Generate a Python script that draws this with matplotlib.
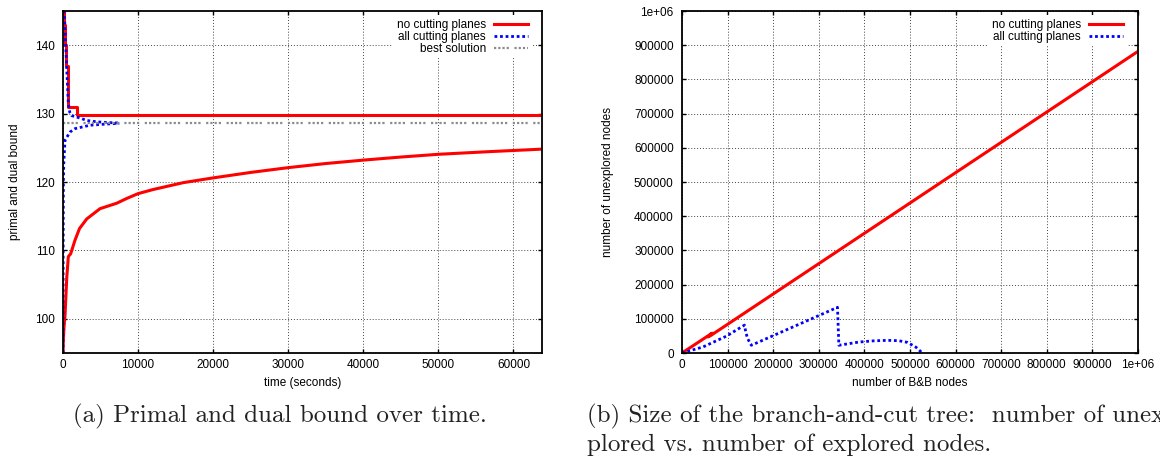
import matplotlib
matplotlib.use("Agg")
import matplotlib.pyplot as plt

# ---- (a) primal and dual bound over time ----
# primal bound, no cutting planes (step function)
t_primal_nocut = [0, 100, 200, 350, 700, 1830, 63700]
v_primal_nocut = [145, 143, 140, 137, 131, 129.85, 129.85]
# dual bound, no cutting planes
t_dual_nocut = [0, 50, 150, 270, 500, 710, 1020, 1600, 2200, 3160, 4930, 7160, 8500,
                10000, 12000, 14000, 16000, 18270, 20000, 25000, 30000, 35000, 40000,
                45000, 50000, 57000, 63700]
v_dual_nocut = [95, 97, 99, 100.5, 106, 109.1, 109.5, 111.5, 113.2, 114.6, 116.1, 116.9, 117.6,
                118.3, 118.9, 119.4, 119.9, 120.3, 120.6, 121.4, 122.1, 122.7, 123.2,
                123.65, 124.05, 124.45, 124.8]
# primal bound, all cutting planes
t_primal_cut = [0, 180, 490, 710, 900, 1160, 2270, 3160, 4490, 5820, 7500]
v_primal_cut = [145, 144.7, 136.8, 131.5, 130.2, 129.7, 129.35, 129.0, 128.8, 128.7, 128.62]
# dual bound, all cutting planes
t_dual_cut = [0, 20, 50, 100, 270, 930, 1600, 3600, 5500, 7500]
v_dual_cut = [95, 110, 120, 122.7, 126.1, 127.3, 127.8, 128.3, 128.45, 128.58]
# best known solution
t_best = [0, 63700]
v_best = [128.6, 128.6]

# ---- (b) size of the branch-and-cut tree ----
n_explored_nocut = [0, 66000, 57000, 64000, 1000000]
n_open_nocut = [0, 58000, 47000, 52000, 882000]
n_explored_cut = [0, 46000, 97000, 137000, 140000, 144000, 152000, 341000, 344000,
                  388000, 420000, 450000, 475000, 494500, 513000, 527000]
n_open_cut = [0, 17600, 49000, 81500, 60000, 42000, 22600, 133500, 22600,
              32000, 35500, 37000, 36000, 31000, 17000, 0]

ticks_b = [0, 100000, 200000, 300000, 400000, 500000, 600000, 700000, 800000, 900000, 1000000]
ticklabels_b = ['0', '100000', '200000', '300000', '400000', '500000', '600000',
                '700000', '800000', '900000', '1e+06']

plt.rcParams['font.family'] = ['Liberation Sans', 'DejaVu Sans']

RED = '#ff0000'
BLUE = '#0000ff'
GRAY = '#8c8c8c'
FS = 8.5

fig = plt.figure(figsize=(11.6, 4.61), dpi=100)
W, H = 1160.0, 461.0
ax1 = fig.add_axes([63 / W, (H - 353) / H, 479 / W, 342 / H])
ax2 = fig.add_axes([682 / W, (H - 353) / H, 456 / W, 342 / H])


def style_axes(ax):
    ax.grid(True, color='#444444', linestyle=(0, (1, 2)), linewidth=0.7)
    ax.set_axisbelow(True)
    ax.tick_params(direction='in', top=True, right=True, length=3, width=1,
                   labelsize=FS, colors='black')
    ax.tick_params(axis='x', pad=4.3)
    ax.tick_params(axis='y', pad=6)
    for sp in ax.spines.values():
        sp.set_linewidth(1.3)


legend_style = dict(loc='upper right', markerfirst=False, frameon=True, fancybox=False,
                    edgecolor='none', facecolor='white', framealpha=1, fontsize=FS,
                    handlelength=2.85, handletextpad=0.7, labelspacing=0.0,
                    borderpad=0.3, borderaxespad=0)

# --- left chart ---
ax1.plot(t_primal_nocut, v_primal_nocut, color=RED, lw=2.2, drawstyle='steps-post',
         label='no cutting planes')
ax1.plot(t_dual_nocut, v_dual_nocut, color=RED, lw=2.2)
ax1.plot(t_primal_cut, v_primal_cut, color=BLUE, lw=2.0, linestyle=(0, (1, 1)),
         label='all cutting planes')
ax1.plot(t_dual_cut, v_dual_cut, color=BLUE, lw=2.0, linestyle=(0, (1, 1)))
ax1.plot(t_best, v_best, color=GRAY, lw=1.6,
         linestyle=(0, (1, 0.9, 1, 0.9, 1, 0.9, 1, 2.5)), label='best solution')
ax1.set_xlim(0, 63800)
ax1.set_ylim(95, 145)
ax1.set_xticks([0, 10000, 20000, 30000, 40000, 50000, 60000])
ax1.set_yticks([100, 110, 120, 130, 140])
style_axes(ax1)
ax1.set_xlabel('time (seconds)', fontsize=FS)
ax1.set_ylabel('primal and dual bound', fontsize=FS)
ax1.xaxis.set_label_coords(0.5, -(377 - 353) / 342.0)
ax1.yaxis.set_label_coords((21 - 63) / 479.0, 0.5)
ax1.legend(bbox_to_anchor=((531.5 - 63) / 479.0, 0.988), **legend_style)

# --- right chart ---
ax2.plot(n_explored_nocut, n_open_nocut, color=RED, lw=2.2, label='no cutting planes')
ax2.plot(n_explored_cut, n_open_cut, color=BLUE, lw=2.0, linestyle=(0, (1, 1)),
         label='all cutting planes')
ax2.set_xlim(0, 1000000)
ax2.set_ylim(0, 1000000)
ax2.set_xticks(ticks_b)
ax2.set_xticklabels(ticklabels_b)
ax2.set_yticks(ticks_b)
ax2.set_yticklabels(ticklabels_b)
style_axes(ax2)
ax2.set_xlabel('number of B&B nodes', fontsize=FS)
ax2.set_ylabel('number of unexplored nodes', fontsize=FS)
ax2.xaxis.set_label_coords(0.5, -(377 - 353) / 342.0)
ax2.yaxis.set_label_coords((614 - 682) / 456.0, 0.5)
ax2.legend(bbox_to_anchor=((1126.5 - 682) / 456.0, 0.988), **legend_style)

# --- captions ---
cap = dict(fontfamily='cmr10', fontsize=18, color='#222222', va='center', ha='left')
fig.text(73 / W, (H - 416) / H, '(a) Primal and dual bound over time.', **cap)
fig.text(587 / W, (H - 416) / H, '(b) Size of the branch-and-cut tree:  number of unex', **cap)
fig.text(587 / W, (H - 445) / H, 'plored vs. number of explored nodes.', **cap)

fig.savefig('out.png', dpi=100)
